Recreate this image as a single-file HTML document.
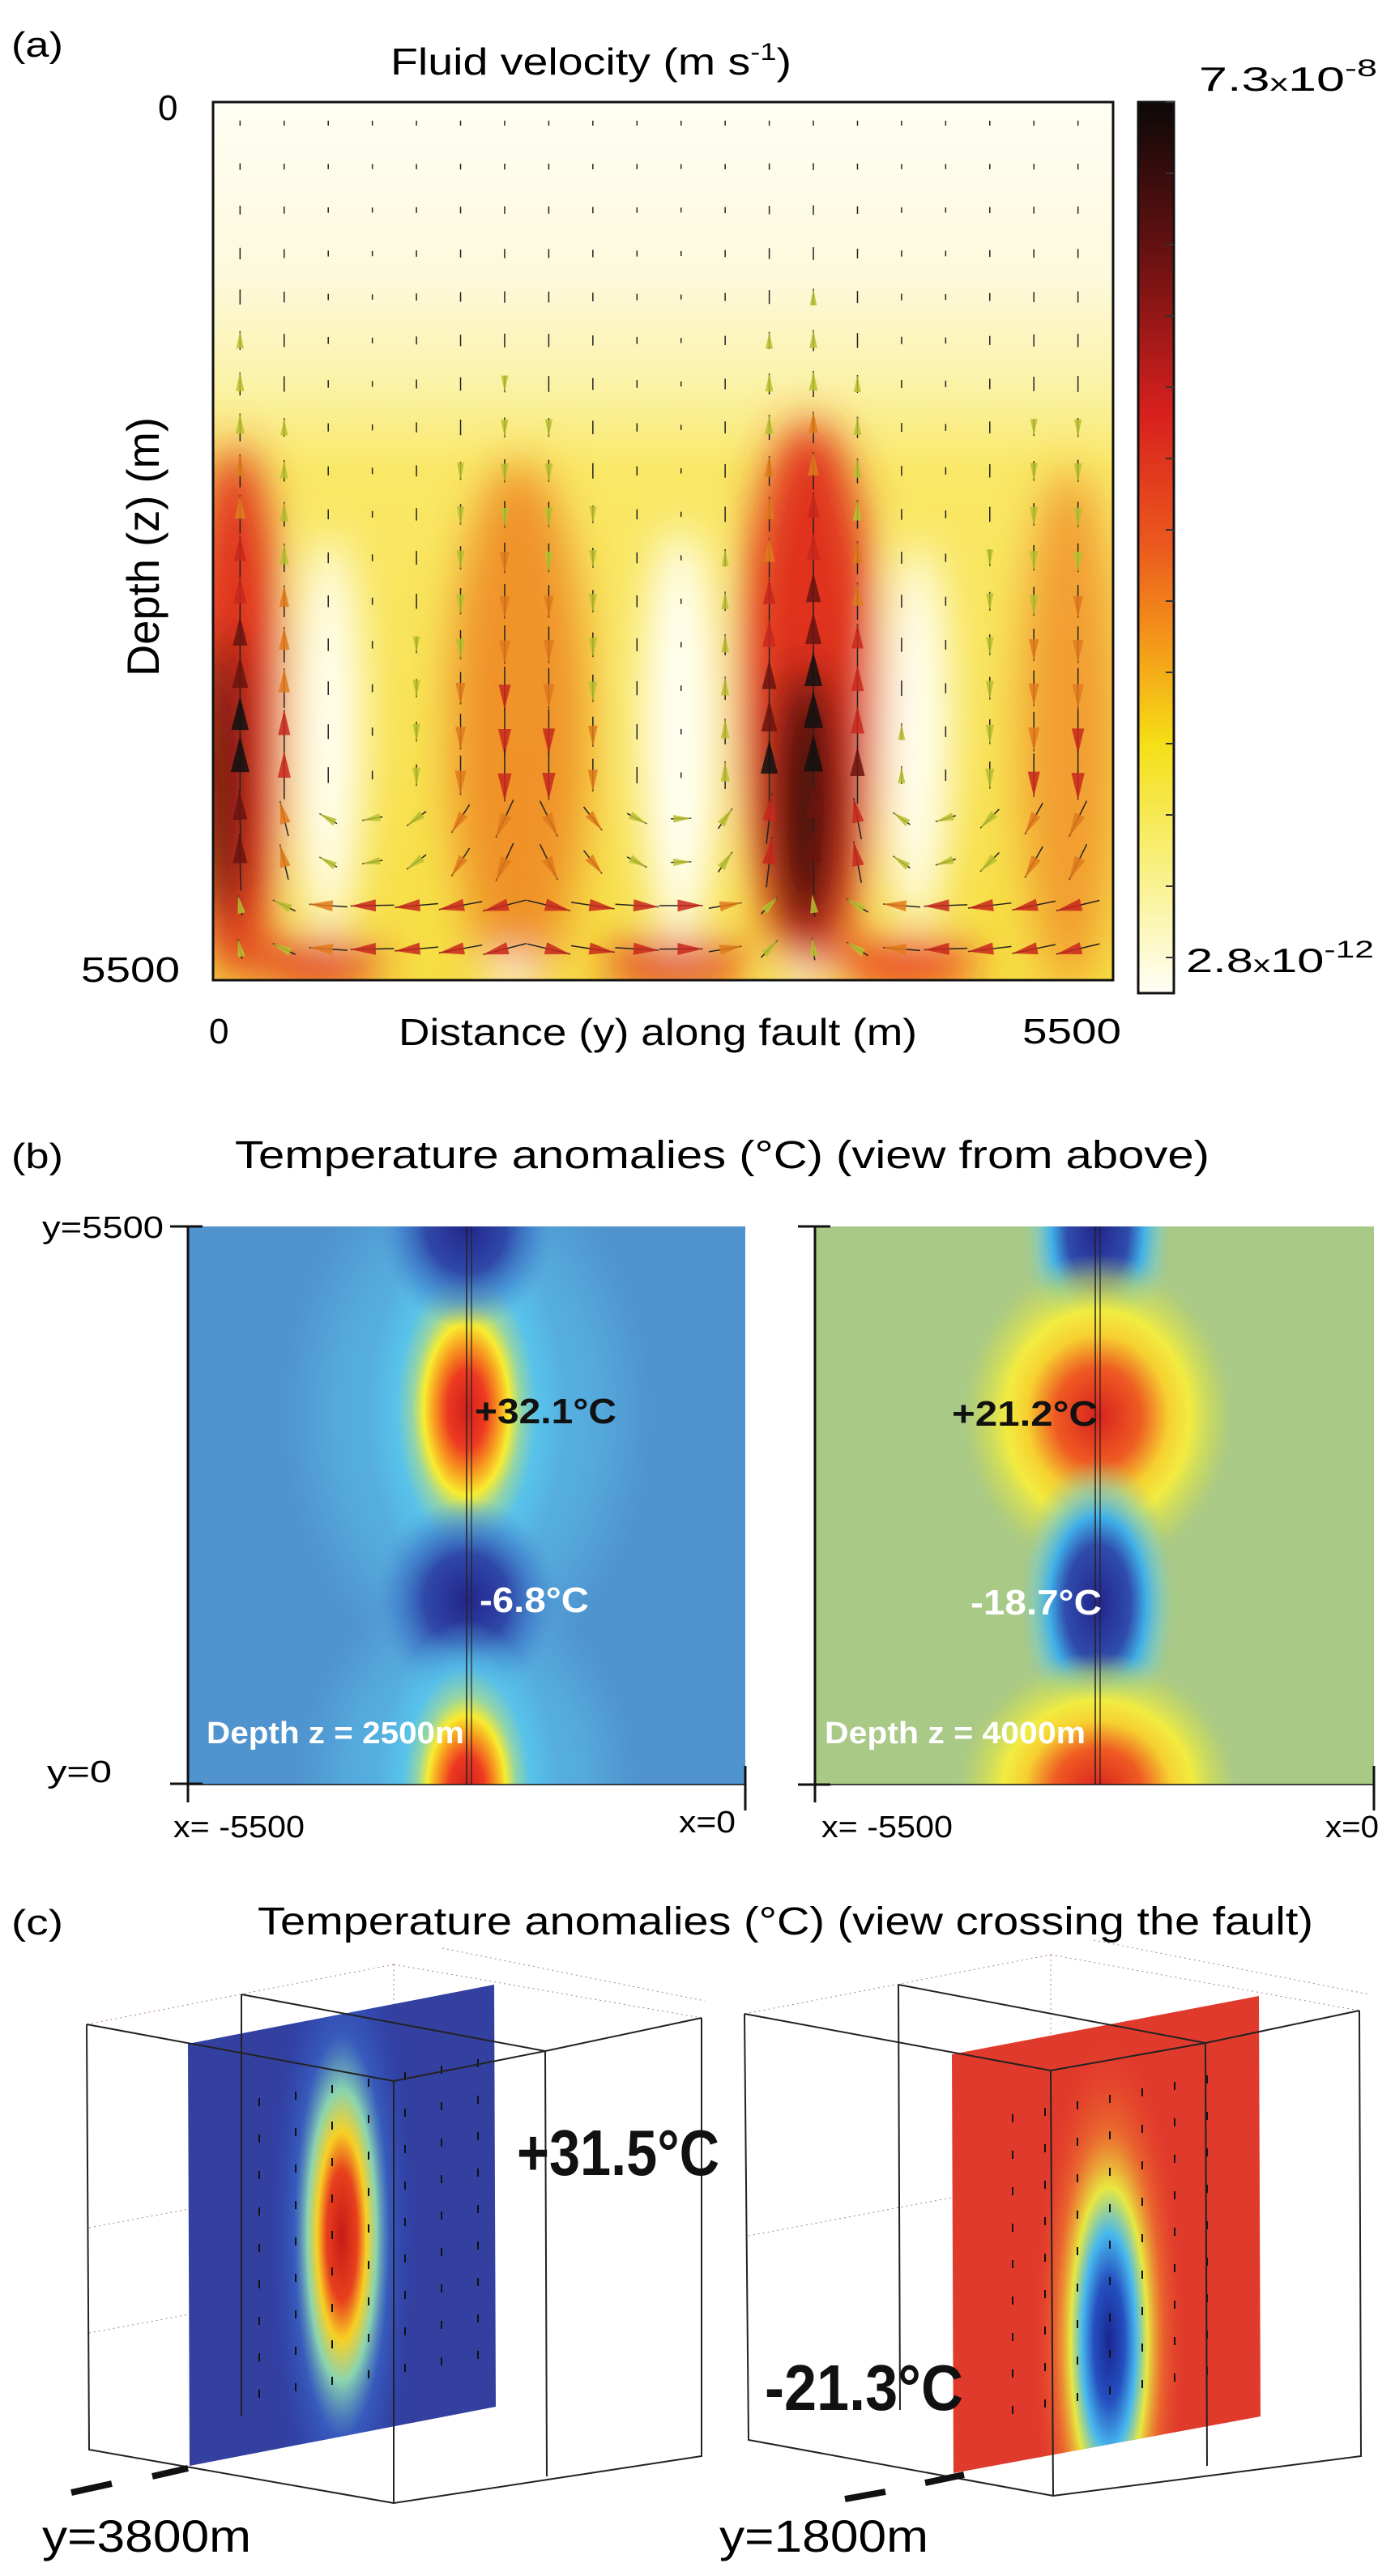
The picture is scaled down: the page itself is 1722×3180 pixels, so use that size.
<!DOCTYPE html>
<html><head><meta charset="utf-8"><style>
html,body{margin:0;padding:0;background:#fff;}
svg{display:block;font-family:"Liberation Sans Narrow","Liberation Sans",sans-serif;}
</style></head><body>
<svg id="fig" width="1722" height="3180" viewBox="0 0 1722 3180" xmlns="http://www.w3.org/2000/svg">
<defs>
  <filter id="blur25" x="-50%" y="-50%" width="200%" height="200%"><feGaussianBlur stdDeviation="26"/></filter>
  <clipPath id="clipA"><rect x="263" y="126" width="1111" height="1084"/></clipPath>
  <clipPath id="clipB1"><rect x="232" y="1514" width="688" height="689"/></clipPath>
  <clipPath id="clipB2"><rect x="1006" y="1514" width="690" height="689"/></clipPath>
  <clipPath id="clipPL"><polygon points="232,2523 610,2450 612,2971 234,3044"/></clipPath>
  <clipPath id="clipPR"><polygon points="1175,2536 1554,2464 1556,2983 1177,3053"/></clipPath>
  <linearGradient id="bgA" x1="0" y1="0" x2="0" y2="1">
    <stop offset="0" stop-color="#fffef3"/><stop offset="0.2" stop-color="#fdf9dc"/>
    <stop offset="0.32" stop-color="#fbf2a8"/><stop offset="0.42" stop-color="#f9e866"/>
    <stop offset="1" stop-color="#f7de44"/>
  </linearGradient>
  <linearGradient id="cbar" x1="0" y1="0" x2="0" y2="1">
    <stop offset="0" stop-color="#0c0808"/><stop offset="0.18" stop-color="#6e1212"/>
    <stop offset="0.35" stop-color="#d8201e"/><stop offset="0.5" stop-color="#ec5a1e"/>
    <stop offset="0.62" stop-color="#f4a019"/><stop offset="0.72" stop-color="#f5df16"/>
    <stop offset="0.85" stop-color="#f8ef7a"/><stop offset="1" stop-color="#fffef6"/>
  </linearGradient>
  <radialGradient id="hot">
    <stop offset="0" stop-color="#d0201e"/><stop offset="0.2" stop-color="#ee3a20"/>
    <stop offset="0.34" stop-color="#f8a020"/><stop offset="0.44" stop-color="#f8ec30"/>
    <stop offset="0.56" stop-color="#9ad8a0" stop-opacity="0.9"/><stop offset="0.72" stop-color="#58c6ec" stop-opacity="0.8"/>
    <stop offset="1" stop-color="#58c6ec" stop-opacity="0"/>
  </radialGradient>
  <radialGradient id="hot2">
    <stop offset="0" stop-color="#d8221e"/><stop offset="0.3" stop-color="#ef5a22"/>
    <stop offset="0.5" stop-color="#f6d030"/><stop offset="0.65" stop-color="#f2ec40"/>
    <stop offset="0.85" stop-color="#c6d860" stop-opacity="0.6"/><stop offset="1" stop-color="#a9c987" stop-opacity="0"/>
  </radialGradient>
  <radialGradient id="cold">
    <stop offset="0" stop-color="#23258a"/><stop offset="0.45" stop-color="#2f48a8"/>
    <stop offset="0.75" stop-color="#3d78c8" stop-opacity="0.6"/><stop offset="1" stop-color="#4f93cf" stop-opacity="0"/>
  </radialGradient>
  <radialGradient id="cold2">
    <stop offset="0" stop-color="#23258a"/><stop offset="0.4" stop-color="#2f4cac"/>
    <stop offset="0.6" stop-color="#40b0e8"/><stop offset="0.8" stop-color="#7ccac8" stop-opacity="0.6"/>
    <stop offset="1" stop-color="#a9c987" stop-opacity="0"/>
  </radialGradient>
  <radialGradient id="halo">
    <stop offset="0" stop-color="#5ac8ee" stop-opacity="0.9"/><stop offset="0.7" stop-color="#5ac0ea" stop-opacity="0.5"/>
    <stop offset="1" stop-color="#5ab8e6" stop-opacity="0"/>
  </radialGradient>
  <radialGradient id="plumeHot">
    <stop offset="0" stop-color="#c81a18"/><stop offset="0.2" stop-color="#e8401c"/>
    <stop offset="0.32" stop-color="#f8d024"/><stop offset="0.45" stop-color="#8ad4b0"/>
    <stop offset="0.62" stop-color="#3a6cd0" stop-opacity="0.6"/><stop offset="1" stop-color="#2a3ab0" stop-opacity="0"/>
  </radialGradient>
  <radialGradient id="plumeCold">
    <stop offset="0" stop-color="#1a2690"/><stop offset="0.2" stop-color="#2450c0"/>
    <stop offset="0.35" stop-color="#48b8ee"/><stop offset="0.5" stop-color="#e8e840"/>
    <stop offset="0.7" stop-color="#f08030" stop-opacity="0.6"/><stop offset="1" stop-color="#e83a28" stop-opacity="0"/>
  </radialGradient>
</defs>

<!-- ================= (a) ================= -->
<g>
<text x="14" y="70" font-size="44" textLength="64" lengthAdjust="spacingAndGlyphs">(a)</text>
<text x="482" y="92" font-size="46" textLength="495" lengthAdjust="spacingAndGlyphs">Fluid velocity (m s<tspan font-size="30" dy="-18">-1</tspan><tspan dy="18">)</tspan></text>
<g clip-path="url(#clipA)">
  <rect x="263" y="126" width="1111" height="1084" fill="url(#bgA)"/>
  <g filter="url(#blur25)">
    <ellipse cx="640" cy="900" rx="85" ry="330" fill="#ee8a24" opacity="0.9"/>
    <ellipse cx="1320" cy="900" rx="60" ry="320" fill="#f0902a" opacity="0.85"/>
    <ellipse cx="290" cy="880" rx="60" ry="330" fill="#e0301e"/>
    <ellipse cx="999" cy="860" rx="85" ry="340" fill="#e0301e"/>
    <ellipse cx="275" cy="960" rx="28" ry="180" fill="#4a0e0e"/>
    <ellipse cx="995" cy="990" rx="42" ry="170" fill="#2a0c0c"/>
    <ellipse cx="391" cy="1190" rx="80" ry="28" fill="#e02a1c"/>
    <ellipse cx="833" cy="1190" rx="90" ry="28" fill="#e02a1c"/>
    <ellipse cx="1118" cy="1190" rx="90" ry="28" fill="#e8301c"/>
    <ellipse cx="406" cy="910" rx="42" ry="250" fill="#fffff4"/>
    <ellipse cx="840" cy="910" rx="50" ry="260" fill="#fffff4"/>
    <ellipse cx="1132" cy="910" rx="42" ry="240" fill="#fffff4"/>
    <ellipse cx="633" cy="1205" rx="28" ry="25" fill="#fffff4"/>
    <ellipse cx="990" cy="1210" rx="28" ry="20" fill="#fffff4"/>
  </g>
  <g id="quiver"></g>
</g>
<rect x="263" y="126" width="1111" height="1084" fill="none" stroke="#111" stroke-width="3"/>
<text x="195" y="148" font-size="44">0</text>
<text x="100" y="1212" font-size="44" textLength="122" lengthAdjust="spacingAndGlyphs">5500</text>
<text transform="translate(196,675) rotate(-90)" text-anchor="middle" font-size="56" font-family="Liberation Sans, sans-serif" textLength="320" lengthAdjust="spacingAndGlyphs">Depth (z) (m)</text>
<text x="258" y="1288" font-size="44">0</text>
<text x="492" y="1290" font-size="46" textLength="640" lengthAdjust="spacingAndGlyphs">Distance (y) along fault  (m)</text>
<text x="1262" y="1288" font-size="44" textLength="122" lengthAdjust="spacingAndGlyphs">5500</text>
<g>
  <rect x="1405" y="126" width="44" height="1100" fill="url(#cbar)" stroke="#111" stroke-width="3"/>
  <g id="cbticks"></g>
  <text x="1480" y="112" font-size="42" textLength="220" lengthAdjust="spacingAndGlyphs">7.3<tspan font-size="30">x</tspan>10<tspan font-size="30" dy="-18">-8</tspan></text>
  <text x="1464" y="1200" font-size="42" textLength="232" lengthAdjust="spacingAndGlyphs">2.8<tspan font-size="30">x</tspan>10<tspan font-size="30" dy="-18">-12</tspan></text>
</g>
</g>

<!-- ================= (b) ================= -->
<g>
<text x="14" y="1442" font-size="44" textLength="64" lengthAdjust="spacingAndGlyphs">(b)</text>
<text x="290" y="1442" font-size="48" font-family="Liberation Sans, sans-serif" textLength="1203" lengthAdjust="spacingAndGlyphs">Temperature anomalies (°C) (view from above)</text>
<g clip-path="url(#clipB1)">
  <rect x="232" y="1514" width="688" height="689" fill="#4f93cf"/>
  <ellipse cx="576" cy="1745" rx="230" ry="330" fill="url(#halo)"/>
  <ellipse cx="576" cy="2203" rx="210" ry="260" fill="url(#halo)"/>
  <ellipse cx="576" cy="1740" rx="120" ry="240" fill="url(#hot)"/>
  <ellipse cx="576" cy="1514" rx="110" ry="125" fill="url(#cold)"/>
  <ellipse cx="576" cy="1975" rx="115" ry="125" fill="url(#cold)"/>
  <ellipse cx="576" cy="2210" rx="110" ry="210" fill="url(#hot)"/>
  <line x1="576" y1="1514" x2="576" y2="2203" stroke="#222" stroke-width="1.5"/>
  <line x1="582" y1="1514" x2="582" y2="2203" stroke="#222" stroke-width="1.2"/>
</g>
<g clip-path="url(#clipB2)">
  <rect x="1006" y="1514" width="690" height="689" fill="#a9c987"/>
  <ellipse cx="1355" cy="1514" rx="95" ry="190" fill="url(#cold2)"/>
  <ellipse cx="1355" cy="1748" rx="175" ry="200" fill="url(#hot2)"/>
  <ellipse cx="1355" cy="1980" rx="100" ry="180" fill="url(#cold2)"/>
  <ellipse cx="1355" cy="2210" rx="180" ry="170" fill="url(#hot2)"/>
  <line x1="1352" y1="1514" x2="1352" y2="2203" stroke="#222" stroke-width="1.5"/>
  <line x1="1358" y1="1514" x2="1358" y2="2203" stroke="#222" stroke-width="1.2"/>
</g>
<g stroke="#111" stroke-width="3">
  <line x1="232" y1="1514" x2="232" y2="2225"/><line x1="210" y1="1514" x2="250" y2="1514"/>
  <line x1="210" y1="2202" x2="250" y2="2202"/><line x1="232" y1="2203" x2="920" y2="2203" stroke-width="1.5"/>
  <line x1="920" y1="2180" x2="920" y2="2235"/>
  <line x1="1006" y1="1514" x2="1006" y2="2225"/><line x1="985" y1="1514" x2="1025" y2="1514"/>
  <line x1="985" y1="2203" x2="1025" y2="2203"/><line x1="1006" y1="2203" x2="1696" y2="2203" stroke-width="1.5"/>
  <line x1="1696" y1="2180" x2="1696" y2="2235"/>
</g>
<text x="52" y="1528" font-size="38" textLength="150" lengthAdjust="spacingAndGlyphs">y=5500</text>
<text x="58" y="2200" font-size="38" textLength="80" lengthAdjust="spacingAndGlyphs">y=0</text>
<text x="214" y="2268" font-size="38" textLength="162" lengthAdjust="spacingAndGlyphs">x= -5500</text>
<text x="838" y="2262" font-size="38" textLength="70" lengthAdjust="spacingAndGlyphs">x=0</text>
<text x="1014" y="2268" font-size="38" textLength="162" lengthAdjust="spacingAndGlyphs">x= -5500</text>
<text x="1636" y="2268" font-size="38" textLength="66" lengthAdjust="spacingAndGlyphs">x=0</text>
<g font-weight="bold" font-size="44">
<text x="586" y="1757" fill="#111" textLength="175" lengthAdjust="spacingAndGlyphs">+32.1°C</text>
<text x="592" y="1990" fill="#fff" textLength="135" lengthAdjust="spacingAndGlyphs">-6.8°C</text>
<text x="1175" y="1760" fill="#111" textLength="180" lengthAdjust="spacingAndGlyphs">+21.2°C</text>
<text x="1198" y="1993" fill="#fff" textLength="162" lengthAdjust="spacingAndGlyphs">-18.7°C</text>
<text x="255" y="2152" fill="#fff" font-size="38" textLength="318" lengthAdjust="spacingAndGlyphs">Depth z = 2500m</text>
<text x="1018" y="2152" fill="#fff" font-size="38" textLength="322" lengthAdjust="spacingAndGlyphs">Depth z = 4000m</text>
</g>
</g>

<!-- ================= (c) ================= -->
<g>
<text x="14" y="2388" font-size="44" textLength="64" lengthAdjust="spacingAndGlyphs">(c)</text>
<text x="318" y="2388" font-size="48" font-family="Liberation Sans, sans-serif" textLength="1303" lengthAdjust="spacingAndGlyphs">Temperature anomalies (°C) (view crossing the fault)</text>

<g>
  <g stroke="#b08080" stroke-width="1" stroke-dasharray="2,4" fill="none">
    <line x1="107" y1="2499" x2="486" y2="2425"/><line x1="486" y1="2425" x2="866" y2="2491"/>
    <line x1="486" y1="2425" x2="486" y2="2980"/><line x1="110" y1="2750" x2="486" y2="2680"/>
    <line x1="110" y1="2880" x2="486" y2="2810"/><line x1="546" y1="2405" x2="870" y2="2470"/>
  </g>
  <polygon points="232,2523 610,2450 612,2971 234,3044" fill="#33409f"/>
  <g clip-path="url(#clipPL)"><ellipse cx="422" cy="2760" rx="95" ry="400" fill="url(#plumeHot)"/></g>
  <g id="arrowsL"></g>
  <g stroke="#222" stroke-width="2" fill="none">
    <polyline points="107,2499 110,3024 486,3090 866,3032 866,2491"/>
    <polyline points="298,2462 673,2532 486,2569 107,2499"/>
    <line x1="298" y1="2462" x2="298" y2="2983"/><line x1="673" y1="2532" x2="675" y2="3057"/>
    <line x1="486" y1="2569" x2="486" y2="3090"/><line x1="866" y1="2491" x2="673" y2="2532"/>
  </g>
  <line x1="88" y1="3077" x2="138" y2="3066" stroke="#111" stroke-width="8"/>
  <line x1="188" y1="3057" x2="232" y2="3047" stroke="#111" stroke-width="8"/>
  <text x="638" y="2685" font-size="80" font-weight="bold" fill="#111" textLength="250" lengthAdjust="spacingAndGlyphs">+31.5°C</text>
  <text x="52" y="3150" font-size="56" textLength="258" lengthAdjust="spacingAndGlyphs">y=3800m</text>
</g>

<g>
  <g stroke="#b08080" stroke-width="1" stroke-dasharray="2,4" fill="none">
    <line x1="919" y1="2486" x2="1297" y2="2413"/><line x1="1297" y1="2413" x2="1678" y2="2482"/>
    <line x1="1297" y1="2413" x2="1297" y2="2980"/><line x1="924" y1="2760" x2="1297" y2="2690"/>
    <line x1="1350" y1="2395" x2="1690" y2="2462"/>
  </g>
  <polygon points="1175,2536 1554,2464 1556,2983 1177,3053" fill="#e03a2c"/>
  <g clip-path="url(#clipPR)"><ellipse cx="1369" cy="2890" rx="95" ry="380" fill="url(#plumeCold)"/></g>
  <g id="arrowsR"></g>
  <g stroke="#222" stroke-width="2" fill="none">
    <polyline points="919,2486 924,3012 1300,3081 1680,3032 1678,2482"/>
    <polyline points="1109,2450 1488,2522 1297,2556 919,2486"/>
    <line x1="1109" y1="2450" x2="1111" y2="2975"/><line x1="1488" y1="2522" x2="1490" y2="3044"/>
    <line x1="1297" y1="2556" x2="1300" y2="3081"/><line x1="1678" y1="2482" x2="1488" y2="2522"/>
  </g>
  <line x1="1043" y1="3085" x2="1093" y2="3076" stroke="#111" stroke-width="8"/>
  <line x1="1142" y1="3065" x2="1190" y2="3055" stroke="#111" stroke-width="8"/>
  <text x="944" y="2975" font-size="80" font-weight="bold" fill="#111" textLength="245" lengthAdjust="spacingAndGlyphs">-21.3°C</text>
  <text x="888" y="3150" font-size="56" textLength="258" lengthAdjust="spacingAndGlyphs">y=1800m</text>
</g>
</g>
</svg>
<script>
// Convection cell data (fractions of the 5500 m section)
const upwellCenters = [0.02, 0.66];
const upwellStrength = [1.0, 1.15];
const downwellCenters = [0.34, 0.955];
const downwellStrength = [0.65, 0.6];
const colorTicks = [0, 1, 2, 3, 4, 5, 6, 7, 8, 9, 10, 11, 12];

const NS = 'http://www.w3.org/2000/svg';
const plot = {x0: 263, y0: 126, w: 1111, h: 1084};
const sx = f => plot.x0 + f * plot.w;
const sy = f => plot.y0 + f * plot.h;

function vertical(f) {
  let v = 0;
  upwellCenters.forEach((c, i) => { v += upwellStrength[i] * Math.exp(-Math.pow((f - c) / 0.08, 2)); });
  downwellCenters.forEach((c, i) => { v -= downwellStrength[i] * Math.exp(-Math.pow((f - c) / 0.11, 2)); });
  return v;
}
function horizontal(f) {
  let bd = 9;
  upwellCenters.forEach(c => { const d = c - f; if (Math.abs(d) < Math.abs(bd)) bd = d; });
  return Math.sign(bd) * Math.min(1, Math.abs(bd) * 8) * 0.5;
}
function headColor(m) {
  if (m > 0.8) return '#111';
  if (m > 0.62) return '#6a1410';
  if (m > 0.48) return '#c8281c';
  if (m > 0.32) return '#e07a1c';
  return '#b8c030';
}
const q = document.getElementById('quiver');
for (let i = 0; i < 20; i++) {
  for (let j = 0; j < 20; j++) {
    const fx = 0.03 + i * 0.049, fz = 0.024 + j * 0.0495;
    const depthAmp = Math.min(1, Math.pow(fz / 0.78, 1.6));
    const bottom = fz > 0.88 ? 1 : (fz > 0.8 ? 0.4 : 0);
    const vz = vertical(fx) * depthAmp * (1 - bottom * 0.8);
    const vx = horizontal(fx) * bottom;
    const m = Math.min(1, Math.hypot(vz, vx));
    const len = 6 + 95 * m;
    const ang = Math.atan2(-vz, vx);
    const cx = sx(fx), cy = sy(fz);
    const ux = Math.cos(ang), uy = Math.sin(ang);
    const dx = ux * len / 2, dy = uy * len / 2;
    const ln = document.createElementNS(NS, 'line');
    
    
    ln.setAttribute('x1', cx - dx); ln.setAttribute('y1', cy - dy);
    ln.setAttribute('x2', cx + dx); ln.setAttribute('y2', cy + dy);
    ln.setAttribute('stroke', '#222'); ln.setAttribute('stroke-width', '1.5');
    q.appendChild(ln);
    if (m > 0.15) {
      const hl = 16 + 30 * m, hw = 3 + 9 * m;
      const tx = cx + dx, ty = cy + dy;
      const p = [[tx, ty], [tx - ux * hl - uy * hw, ty - uy * hl + ux * hw], [tx - ux * hl + uy * hw, ty - uy * hl - ux * hw]];
      const tri = document.createElementNS(NS, 'polygon');
      
      
      tri.setAttribute('points', p.map(a => a.join(',')).join(' '));
      tri.setAttribute('fill', headColor(m));
      tri.setAttribute('opacity', '0.85');
      q.appendChild(tri);
    }
  }
}
const cb = document.getElementById('cbticks');
colorTicks.forEach(t => {
  const y = 126 + t * (1100 / 12.5);
  const l = document.createElementNS(NS, 'line');
  
  
  l.setAttribute('x1', 1439); l.setAttribute('x2', 1449);
  l.setAttribute('y1', y); l.setAttribute('y2', y);
  l.setAttribute('stroke', '#333'); l.setAttribute('stroke-width', '2');
  cb.appendChild(l);
});
function sectionArrows(gid, x0, y0, colDx, colDy, rowDy, up) {
  const g = document.getElementById(gid);
  for (let i = 0; i < 7; i++) for (let j = 0; j < 9; j++) {
    const x = x0 + i * colDx, y = y0 + i * colDy + j * rowDy;
    const l = document.createElementNS(NS, 'line');
    
    
    l.setAttribute('x1', x); l.setAttribute('x2', x);
    l.setAttribute('y1', y); l.setAttribute('y2', y + (up ? -10 : 10));
    l.setAttribute('stroke', '#111'); l.setAttribute('stroke-width', '2');
    g.appendChild(l);
  }
}
sectionArrows('arrowsL', 320, 2600, 45, -8, 45, true);
sectionArrows('arrowsR', 1250, 2610, 40, -8, 45, false);
</script>
</body></html>
